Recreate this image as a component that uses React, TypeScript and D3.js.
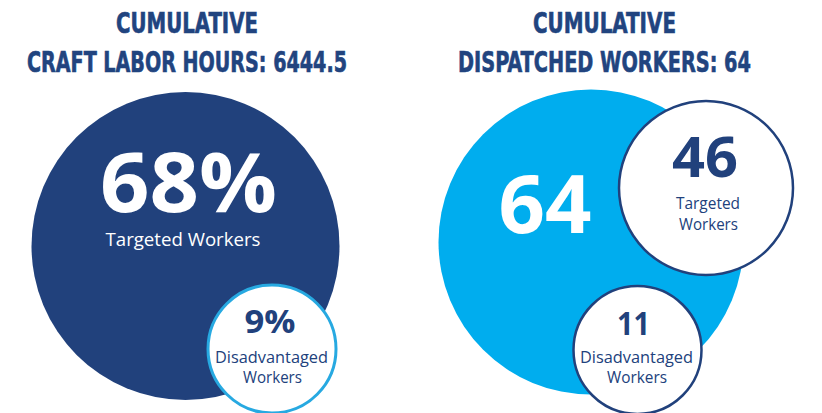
import React from "react";
import * as d3 from "d3";

// ---- data ----
const panelTitles = ["CUMULATIVE", "CUMULATIVE"];
const panelSubtitles = ["CRAFT LABOR HOURS", "DISPATCHED WORKERS"];
const panelTotals = [6444.5, 64];
const mainValues = ["68%", "64"];
const mainLabels = [["Targeted Workers"], []];
const subValues = [["9%"], ["46", "11"]];
const subLabels = [
  [["Disadvantaged", "Workers"]],
  [["Targeted", "Workers"], ["Disadvantaged", "Workers"]],
];

// ---- layout / style (not data) ----
const W = 822;
const H = 413;
const DARK = "#21417c";
const LIGHT = "#00adee";
const TITLE = "#21447f";

const titleFont = "'Liberation Sans Narrow', 'DejaVu Sans Condensed', 'DejaVu Sans', sans-serif";
const bodyFont = "'Open Sans', 'Noto Sans', sans-serif";

const panels = [
  {
    cx: 187,
    t1: { y: 33, w: 142 },
    t2: { y: 72, w: 320 },
    big: { cx: 185.5, cy: 246, r: 154, fill: DARK },
    main: { x: 188.5, y: 212, size: 83, w: 177 },
    mainLabel: { x: 183, y: 246, size: 19, w: 155 },
    subs: [
      {
        cx: 272, cy: 349, r: 64, stroke: "#27a9e1", sw: 3,
        val: { x: 270, y: 333, size: 32, w: 51 },
        lab: [{ x: 271.5, y: 363, w: 113 }, { x: 272.5, y: 383, w: 59 }],
        labSize: 15.5,
      },
    ],
  },
  {
    cx: 604.5,
    t1: { y: 33, w: 143 },
    t2: { y: 72, w: 293 },
    big: { cx: 591, cy: 242, r: 152.5, fill: LIGHT },
    main: { x: 545, y: 233, size: 80, w: 93 },
    mainLabel: null as any,
    subs: [
      {
        cx: 706, cy: 188, r: 87, stroke: DARK, sw: 2.5,
        val: { x: 705, y: 177, size: 56, w: 66 },
        lab: [{ x: 708, y: 209, w: 64 }, { x: 708.5, y: 230, w: 59 }],
        labSize: 16,
      },
      {
        cx: 637.5, cy: 350, r: 64, stroke: DARK, sw: 2.5,
        val: { x: 633.5, y: 335, size: 32, w: 33 },
        lab: [{ x: 636.5, y: 363, w: 113 }, { x: 637, y: 383, w: 60 }],
        labSize: 15.5,
      },
    ],
  },
];

const fmt = d3.format(",.10~f");
const fmtTotal = (v: number) => fmt(v).replace(/,/g, "");

export default function App() {
  return (
    <div style={{ position: "absolute", left: 0, top: 0 }}>
      <svg width={W} height={H} viewBox={`0 0 ${W} ${H}`} style={{ display: "block", background: "#fff" }}>
        {panels.map((p, i) => (
          <g key={i}>
            <text
              x={p.cx}
              y={p.t1.y}
              textAnchor="middle"
              fontFamily={titleFont}
              fontWeight={700}
              fontSize={28}
              fill={TITLE}
              stroke={TITLE}
              strokeWidth={0.6}
              textLength={p.t1.w}
              lengthAdjust="spacingAndGlyphs"
            >
              {panelTitles[i]}
            </text>
            <text
              x={p.cx}
              y={p.t2.y}
              textAnchor="middle"
              fontFamily={titleFont}
              fontWeight={700}
              fontSize={28}
              fill={TITLE}
              stroke={TITLE}
              strokeWidth={0.6}
              textLength={p.t2.w}
              lengthAdjust="spacingAndGlyphs"
            >
              {`${panelSubtitles[i]}: ${fmtTotal(panelTotals[i])}`}
            </text>
            <circle cx={p.big.cx} cy={p.big.cy} r={p.big.r} fill={p.big.fill} />
            <text
              x={p.main.x}
              y={p.main.y}
              textAnchor="middle"
              fontFamily={bodyFont}
              fontWeight={700}
              fontSize={p.main.size}
              fill="#fff"
              textLength={p.main.w}
              lengthAdjust="spacingAndGlyphs"
            >
              {mainValues[i]}
            </text>
            {mainLabels[i].map((l, k) =>
              p.mainLabel ? (
                <text
                  key={k}
                  x={p.mainLabel.x}
                  y={p.mainLabel.y}
                  textAnchor="middle"
                  fontFamily={bodyFont}
                  fontSize={p.mainLabel.size}
                  fill="#fff"
                  textLength={p.mainLabel.w}
                  lengthAdjust="spacingAndGlyphs"
                >
                  {l}
                </text>
              ) : null
            )}
            {p.subs.map((s, j) => (
              <g key={j}>
                <circle cx={s.cx} cy={s.cy} r={s.r} fill="#fff" stroke={s.stroke} strokeWidth={s.sw} />
                <text
                  x={s.val.x}
                  y={s.val.y}
                  textAnchor="middle"
                  fontFamily={bodyFont}
                  fontWeight={700}
                  fontSize={s.val.size}
                  fill={DARK}
                  textLength={s.val.w}
                  lengthAdjust="spacingAndGlyphs"
                >
                  {subValues[i][j]}
                </text>
                {subLabels[i][j].map((l, k) => (
                  <text
                    key={k}
                    x={s.lab[k].x}
                    y={s.lab[k].y}
                    textAnchor="middle"
                    fontFamily={bodyFont}
                    fontSize={s.labSize}
                    fill={DARK}
                    textLength={s.lab[k].w}
                    lengthAdjust="spacingAndGlyphs"
                  >
                    {l}
                  </text>
                ))}
              </g>
            ))}
          </g>
        ))}
      </svg>
    </div>
  );
}
